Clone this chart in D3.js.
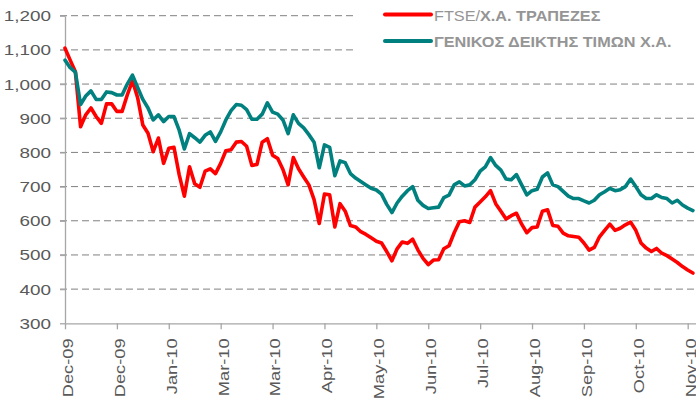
<!DOCTYPE html>
<html>
<head>
<meta charset="utf-8">
<script src="https://cdn.jsdelivr.net/npm/d3@7"></script>
<style>
  html, body { margin: 0; padding: 0; background: #fff; }
  svg { display: block; font-family: "Liberation Sans", Arial, sans-serif; }
</style>
</head>
<body>
<div id="chart"></div>
<script>
// tick labels of the category axis (one every 10 points)
const xLabels = ["Dec-09", "Dec-09", "Jan-10", "Mar-10", "Mar-10", "Apr-10", "May-10",
                 "Jun-10", "Jul-10", "Aug-10", "Sep-10", "Oct-10", "Nov-10"];
const yTicks = [300, 400, 500, 600, 700, 800, 900, 1000, 1100, 1200];

const seriesNames = ["FTSE/Χ.Α. ΤΡΑΠΕΖΕΣ", "ΓΕΝΙΚΟΣ ΔΕΙΚΤΗΣ ΤΙΜΩΝ Χ.Α."];

// FTSE/Χ.Α. Τράπεζες
const banks = [
  1105, 1070, 1036, 875, 910, 930, 905, 885, 942, 942,
  920, 920, 968, 1010, 960, 880, 856, 802, 842, 768,
  812, 815, 735, 672, 758, 708, 698, 745, 752, 738,
  768, 805, 808, 830, 832, 818, 762, 765, 830, 840,
  792, 782, 750, 705, 785, 752, 728, 705, 662, 592,
  678, 676, 582, 650, 628, 586, 582, 568, 560, 550,
  540, 535, 510, 483, 518, 538, 534, 546, 515, 490,
  472, 485, 486, 518, 527, 565, 597, 600, 595, 640,
  655, 670, 688, 650, 628, 605, 615, 622, 590, 565,
  580, 582, 628, 632, 586, 584, 564, 556, 554, 552,
  535, 514, 522, 553, 572, 590, 572, 578, 588, 596,
  572, 535, 520, 510, 519, 505, 498, 488, 478, 466,
  456, 447
];

// Γενικός Δείκτης Τιμών Χ.Α.
const general = [
  1070, 1048, 1035, 940, 965, 980, 955, 955, 977, 975,
  968, 968, 1000, 1026, 990, 955, 930, 895, 910, 890,
  905, 905, 865, 810, 855, 843, 830, 850, 860, 832,
  860, 895, 922, 940, 938, 925, 897, 897, 912, 945,
  918, 912, 895, 855, 910, 885, 872, 852, 830, 755,
  822, 815, 732, 775, 770, 738, 725, 715, 705, 695,
  690, 678, 648, 624, 652, 672, 688, 700, 660, 645,
  636, 638, 640, 668, 675, 705, 714, 702, 705, 720,
  745, 758, 785, 762, 748, 722, 720, 735, 705, 676,
  688, 692, 728, 740, 705, 700, 686, 672, 665, 665,
  658, 652, 660, 676, 685, 695, 688, 691, 700, 722,
  700, 676, 665, 665, 676, 668, 665, 652, 660, 646,
  637, 630
];

const width = 696, height = 402;
const plotLeft = 65, plotRight = 696, plotTop = 15.7, plotBottom = 323.3;

const svg = d3.select("#chart").append("svg")
  .attr("width", width)
  .attr("height", height);

const x = d3.scaleLinear().domain([0, 121.6]).range([plotLeft, plotRight]);
const y = d3.scaleLinear().domain([300, 1200]).range([plotBottom, plotTop]);

// dashed gridlines
svg.append("g")
  .selectAll("line")
  .data(yTicks.filter(d => d > 300))
  .join("line")
  .attr("x1", plotLeft - 5).attr("x2", plotRight)
  .attr("y1", d => y(d)).attr("y2", d => y(d))
  .attr("stroke", "#808080")
  .attr("stroke-width", 1)
  .attr("stroke-dasharray", "7,4");

// y axis
const yAxis = svg.append("g")
  .attr("transform", `translate(${plotLeft},0)`)
  .call(d3.axisLeft(y).tickValues(yTicks).tickSize(5).tickSizeOuter(0)
    .tickFormat(d3.format(",")));
yAxis.select(".domain").attr("stroke", "#a6a6a6").attr("stroke-width", 1.3);
yAxis.selectAll(".tick line").attr("stroke", "#a6a6a6").attr("stroke-width", 1.3);
yAxis.selectAll(".tick text")
  .attr("x", 0).attr("dy", "0.36em")
  .attr("transform", "translate(-14,0) scale(1.35,1)")
  .attr("fill", "#595959")
  .style("font-size", "14px");

// x axis
const xAxis = svg.append("g")
  .attr("transform", `translate(0,${plotBottom})`)
  .call(d3.axisBottom(x).tickValues(d3.range(0, 121, 10)).tickSize(6).tickSizeOuter(0)
    .tickFormat((d, i) => xLabels[i]));
xAxis.select(".domain").attr("stroke", "#a6a6a6").attr("stroke-width", 1.3);
xAxis.selectAll(".tick line").attr("stroke", "#a6a6a6").attr("stroke-width", 1.3);
xAxis.selectAll(".tick text")
  .attr("x", 0).attr("y", 0).attr("dy", "0.36em")
  .attr("text-anchor", "end")
  .attr("transform", "translate(2,15) rotate(-90) scale(1.22,1)")
  .attr("fill", "#595959")
  .style("font-size", "15px");

// lines
const line = d3.line().x((d, i) => x(i)).y(d => y(d));
const colors = ["#ff0000", "#00807e"];

[banks, general].forEach((s, k) => {
  svg.append("path")
    .datum(s)
    .attr("fill", "none")
    .attr("stroke", colors[k])
    .attr("stroke-width", 3.6)
    .attr("stroke-linejoin", "round")
    .attr("stroke-linecap", "round")
    .attr("d", line);
});

// legend (white box hides the gridlines behind it)
svg.append("rect")
  .attr("x", 355).attr("y", 0)
  .attr("width", width - 355).attr("height", 58)
  .attr("fill", "#fff");

const legend = svg.append("g").attr("transform", "translate(383,14.5)");
const items = legend.selectAll("g")
  .data(seriesNames)
  .join("g")
  .attr("transform", (d, i) => `translate(0,${i * 26.5})`);

items.append("line")
  .attr("x1", 2).attr("x2", 48)
  .attr("stroke", (d, i) => colors[i])
  .attr("stroke-width", 4)
  .attr("stroke-linecap", "round");

const labels = items.append("text")
  .attr("transform", "translate(51,6) scale(1.16,1)")
  .attr("fill", "#959595")
  .style("font-size", "14px");

labels.filter((d, i) => i === 0).call(t => {
  t.append("tspan").text("FTSE/");
  t.append("tspan").attr("font-weight", "bold").text("Χ.Α. ΤΡΑΠΕΖΕΣ");
});
labels.filter((d, i) => i === 1)
  .attr("font-weight", "bold")
  .text(d => d);
</script>
</body>
</html>
